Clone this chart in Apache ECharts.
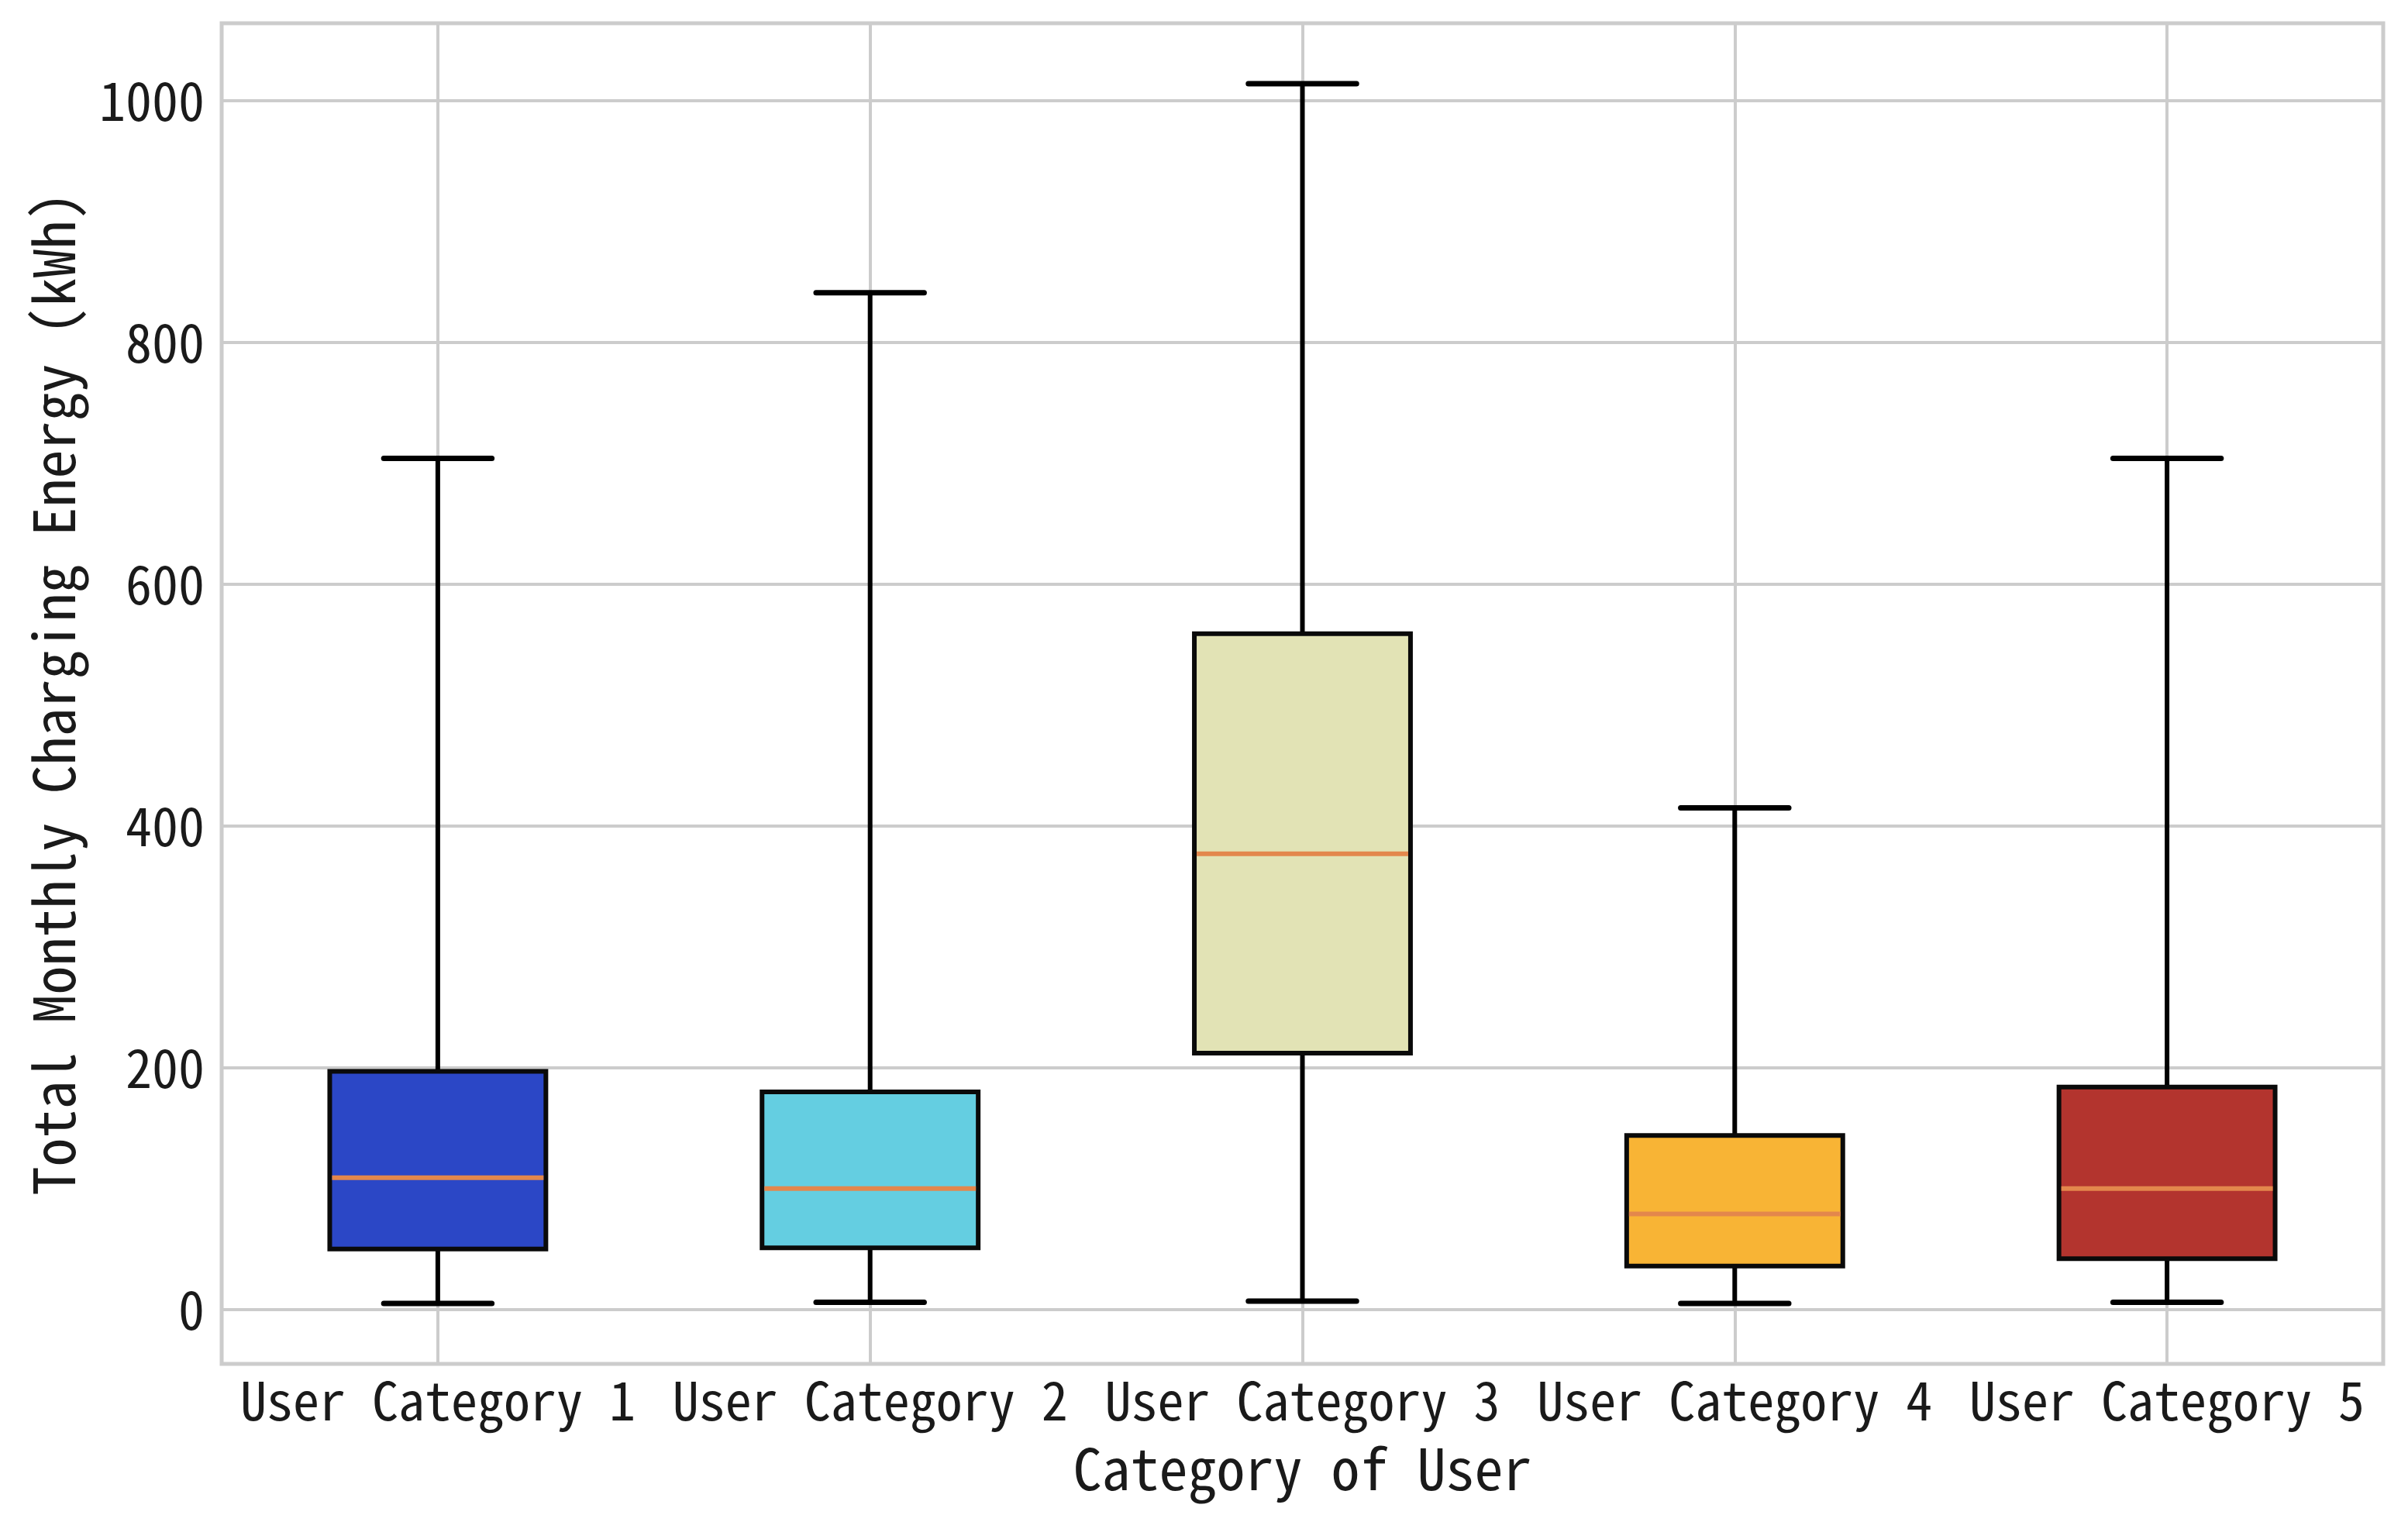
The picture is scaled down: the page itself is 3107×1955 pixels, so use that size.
<!DOCTYPE html>
<html>
<head>
<meta charset="utf-8">
<script src="https://cdn.jsdelivr.net/npm/echarts@6/dist/echarts.min.js"></script>
<style>
  html, body { margin: 0; padding: 0; background: #ffffff; }
  #chart { width: 3107px; height: 1955px; }
</style>
</head>
<body>
<div id="chart"></div>
<script>
// ---- data ----
var categories = ['User Category 1', 'User Category 2', 'User Category 3', 'User Category 4', 'User Category 5'];
var whiskerLow  = [5, 6, 7, 5, 6];
var q1Values    = [50, 51, 212, 36, 42];
var medians     = [109, 100, 377, 79, 100];
var q3Values    = [197, 180, 559, 144, 184];
var whiskerHigh = [704, 841, 1014, 415, 704];
var boxColors   = ['#2b47c6', '#64cee1', '#e2e3b5', '#f8b435', '#b3342e'];
var yTicks      = [0, 200, 400, 600, 800, 1000];

var FONT = "'Noto Sans Mono CJK SC', 'Noto Sans CJK SC', 'DejaVu Sans Mono', monospace";

var seriesData = categories.map(function (c, i) {
  return [i, whiskerLow[i], q1Values[i], medians[i], q3Values[i], whiskerHigh[i]];
});

function renderBox(params, api) {
  var idx = api.value(0);
  var lo = api.value(1), q1 = api.value(2), med = api.value(3), q3 = api.value(4), hi = api.value(5);
  var bandW = api.size([1, 0])[0];
  var boxW = bandW * 0.5;
  var capW = bandW * 0.25;
  var pLo = api.coord([idx, lo]);
  var pQ1 = api.coord([idx, q1]);
  var pMed = api.coord([idx, med]);
  var pQ3 = api.coord([idx, q3]);
  var pHi = api.coord([idx, hi]);
  var cx = pMed[0];
  var lineStyle = { stroke: '#000000', lineWidth: 6, lineCap: 'butt' };
  var children = [
    { type: 'line', shape: { x1: cx, y1: pLo[1], x2: cx, y2: pQ1[1] }, style: lineStyle },
    { type: 'line', shape: { x1: cx, y1: pQ3[1], x2: cx, y2: pHi[1] }, style: lineStyle },
    { type: 'line', shape: { x1: cx - capW / 2, y1: pLo[1], x2: cx + capW / 2, y2: pLo[1] }, style: { stroke: '#000000', lineWidth: 7, lineCap: 'round' } },
    { type: 'line', shape: { x1: cx - capW / 2, y1: pHi[1], x2: cx + capW / 2, y2: pHi[1] }, style: { stroke: '#000000', lineWidth: 7, lineCap: 'round' } },
    { type: 'rect', shape: { x: cx - boxW / 2, y: pQ3[1], width: boxW, height: pQ1[1] - pQ3[1] },
      style: { fill: boxColors[params.dataIndex], stroke: '#0a0a0a', lineWidth: 6 } },
    { type: 'line', shape: { x1: cx - boxW / 2 + 3, y1: pMed[1], x2: cx + boxW / 2 - 3, y2: pMed[1] },
      style: { stroke: '#e3874c', lineWidth: 6 } }
  ];
  return { type: 'group', children: children };
}

var chart = echarts.init(document.getElementById('chart'), null, { renderer: 'canvas' });
chart.setOption({
  backgroundColor: '#ffffff',
  animation: false,
  grid: {
    left: 286, right: 32, top: 30, bottom: 195,
    show: true, borderColor: '#cccccc', borderWidth: 5, backgroundColor: 'transparent'
  },
  xAxis: {
    type: 'category',
    data: categories,
    boundaryGap: true,
    name: 'Category of User',
    nameLocation: 'middle',
    nameGap: 98,
    nameTextStyle: { fontFamily: FONT, fontSize: 74, color: '#1a1a1a' },
    axisLine: { show: false },
    axisTick: { show: false, alignWithLabel: true },
    axisLabel: { fontFamily: FONT, fontSize: 68, color: '#1a1a1a', margin: 13, interval: 0 },
    splitLine: { show: true, alignWithLabel: true, interval: 0, lineStyle: { color: '#cccccc', width: 4 } }
  },
  yAxis: {
    type: 'value',
    min: -45,
    max: 1064,
    name: 'Total Monthly Charging Energy (kWh)',
    nameLocation: 'middle',
    nameGap: 180,
    nameTextStyle: { fontFamily: FONT, fontSize: 74, color: '#1a1a1a' },
    axisLine: { show: false },
    axisTick: { show: false, customValues: yTicks },
    axisLabel: {
      fontFamily: FONT, fontSize: 68, color: '#1a1a1a', margin: 22,
      customValues: yTicks,
      formatter: function (v) { return String(v); }
    },
    splitLine: { show: true, lineStyle: { color: '#cccccc', width: 4 } }
  },
  series: [{
    type: 'custom',
    renderItem: renderBox,
    data: seriesData,
    encode: { x: 0, y: [1, 2, 3, 4, 5] },
    clip: false
  }]
});
</script>
</body>
</html>
